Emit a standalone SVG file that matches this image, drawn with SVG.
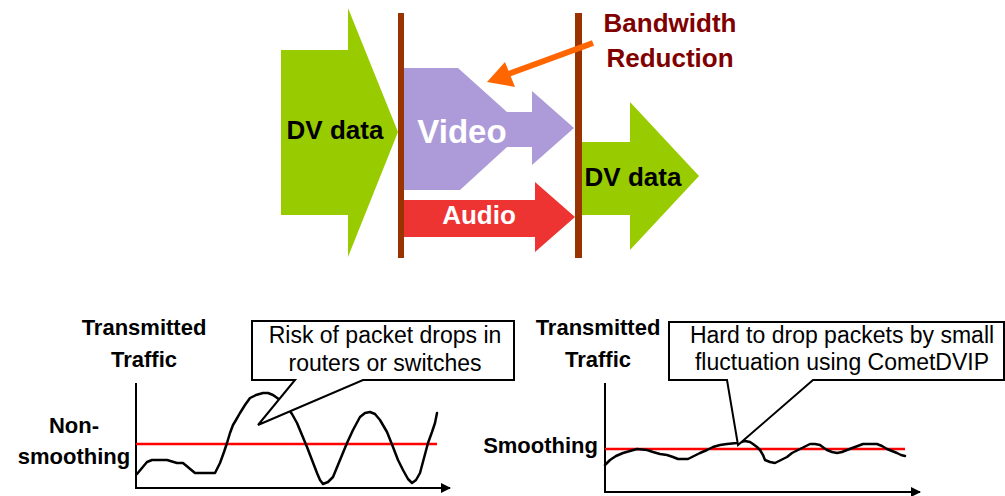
<svg xmlns="http://www.w3.org/2000/svg" width="1005" height="496" viewBox="0 0 1005 496">
<defs>
<style>
.green{fill:#99CC00}
.purple{fill:#AD9BD9}
.red{fill:#EE3333}
.bar{fill:#993300}
.big{font-family:"Liberation Sans",Arial,sans-serif;font-weight:bold;font-size:26px}
.lab{font-family:"Liberation Sans",Arial,sans-serif;font-weight:bold;font-size:22px;fill:#000}
.call{font-family:"Liberation Sans",Arial,sans-serif;font-size:23px;fill:#000;text-anchor:middle}
.box{fill:#fff;stroke:#000;stroke-width:2;stroke-linejoin:miter}
.axis{stroke:#000;stroke-width:2;fill:none}
.thr{stroke:#FF0000;stroke-width:2.5;fill:none}
.wave{stroke:#000;stroke-width:2.5;fill:none;stroke-linejoin:round;stroke-linecap:round}
</style>
<marker id="ah" markerWidth="10" markerHeight="10" refX="9" refY="5" orient="auto" markerUnits="userSpaceOnUse">
<path d="M0,0 L10,5 L0,10 Z" fill="#000"/>
</marker>
</defs>
<rect width="1005" height="496" fill="#fff"/>

<g id="dv-in">
<polygon class="green" points="281,50 348,50 348,8 398,132 348,257 348,215 281,215"/>
<text class="big" x="335" y="139" text-anchor="middle" fill="#000">DV data</text>
</g>
<g id="dv-out">
<polygon class="green" points="580,142 630,142 630,102 699,176 630,250 630,215 580,215"/>
<text class="big" x="633" y="186" text-anchor="middle" fill="#000">DV data</text>
</g>
<g id="video">
<polygon class="purple" points="404,68 458,68 507,112 532,112 532,91 574,128 532,165 532,147 507,147 460,190 404,190"/>
<text x="462" y="143" text-anchor="middle" font-family="Liberation Sans, Arial, sans-serif" font-weight="bold" font-size="33" fill="#fff">Video</text>
</g>
<g id="audio">
<polygon class="red" points="404,200 535,200 535,182 575,217 535,252 535,237 404,237"/>
<text class="big" x="479" y="224" text-anchor="middle" fill="#fff">Audio</text>
</g>
<g id="bar-left"><rect class="bar" x="398" y="13" width="6" height="245"/></g>
<g id="bar-right"><rect class="bar" x="575" y="13" width="7" height="245"/></g>
<g id="bandwidth-label">
<text class="big" x="670" y="32" text-anchor="middle" fill="#800000">Bandwidth</text>
<text class="big" x="670" y="67" text-anchor="middle" fill="#800000">Reduction</text>
</g>

<g id="connectors">
<line x1="593" y1="43" x2="500" y2="77" stroke="#FF6600" stroke-width="6"/>
<polygon points="487,82 505,62 515,87" fill="#FF6600"/>
</g>

<g id="chart-left">
<text class="lab" x="144" y="335" text-anchor="middle">Transmitted</text>
<text class="lab" x="144" y="367" text-anchor="middle">Traffic</text>
<text class="lab" x="74" y="433" text-anchor="middle">Non-</text>
<text class="lab" x="74" y="464" text-anchor="middle">smoothing</text>
<line class="axis" x1="136" y1="383" x2="136" y2="488"/>
<line class="axis" x1="135" y1="488" x2="450" y2="488" marker-end="url(#ah)"/>
<line class="thr" x1="136" y1="444" x2="437" y2="444"/>
<polyline class="wave" points="137,474 142,468 147,462 152,460 157,460 167,460 177,463 183,463 189,468 195,473 205,473 215,473 220,463 224,452 227,443 230,433 233,425 236,420 240,413 245,405 250,398 256,395 263,393 268,393 273,395 280,400 287,407 292,414 297,423 302,435 307,447 312,460 317,473 320,480 323,484 328,482 333,477 340,460 347,443 353,430 360,417 365,413 370,412 375,414 380,420 387,432 393,447 398,460 403,470 408,479 412,483 416,480 420,473 424,458 428,443 432,432 435,423 437,413"/>
</g>
<g id="callout-left">
<path class="box" d="M252,321 H514 V380 H363 L258,425 L295,380 H252 Z"/>
<text class="call" x="385" y="343">Risk of packet drops in</text>
<text class="call" x="385" y="371">routers or switches</text>
</g>

<g id="chart-right">
<text class="lab" x="598" y="335" text-anchor="middle">Transmitted</text>
<text class="lab" x="598" y="367" text-anchor="middle">Traffic</text>
<text class="lab" x="598" y="453" text-anchor="end">Smoothing</text>
<line class="axis" x1="605" y1="383" x2="605" y2="492"/>
<line class="axis" x1="604" y1="492" x2="920" y2="492" marker-end="url(#ah)"/>
<line class="thr" x1="605" y1="449" x2="905" y2="449"/>
<polyline class="wave" points="605,465 610,460 616,456 623,453 630,451 637,449 647,450 653,452 660,454 667,455 673,457 678,459 688,459 694,456 700,453 707,450 713,447 720,445 727,444 737,443 745,441 750,442 753,444 757,447 760,450 763,455 765,460 770,462 775,463 781,460 787,457 792,453 798,450 804,447 810,444 815,444 820,445 824,448 827,450 832,452 837,453 842,452 847,450 855,447 863,444 870,444 877,444 882,446 887,449 892,451 897,453 901,455 905,456"/>
</g>
<g id="callout-right">
<path class="box" d="M669,322 H1004 V380 H813 L738,445 L727,380 H669 Z"/>
<text class="call" x="842" y="343">Hard to drop packets by small</text>
<text class="call" x="842" y="370">fluctuation using CometDVIP</text>
</g>
</svg>
